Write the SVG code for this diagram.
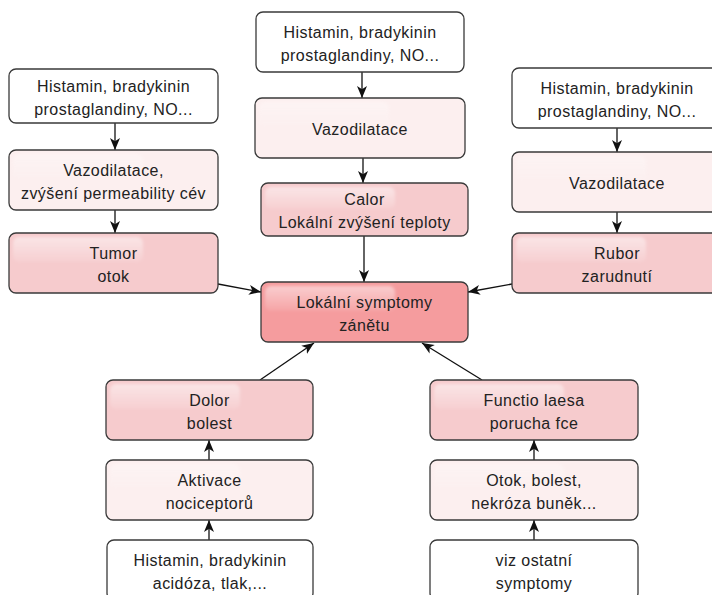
<svg xmlns="http://www.w3.org/2000/svg" width="712" height="595" viewBox="0 0 712 595">
  <defs>
    <marker id="arrow" markerWidth="13" markerHeight="11" refX="12" refY="5.5" orient="auto" markerUnits="userSpaceOnUse">
      <path d="M0,0.5 L12,5.5 L0,10.5 L3.2,5.5 z" fill="#111"/>
    </marker>
    <linearGradient id="gloss" x1="0" y1="0" x2="0" y2="1">
      <stop offset="0" stop-color="#fff" stop-opacity="0.5"/>
      <stop offset="1" stop-color="#fff" stop-opacity="0.08"/>
    </linearGradient>
    <filter id="soft" x="-10%" y="-20%" width="120%" height="140%">
      <feGaussianBlur stdDeviation="1.8"/>
    </filter>
  </defs>
  <style>
    .box rect.b { stroke: #3a3a3a; stroke-width: 1.3; }
    .src rect.b { fill: #ffffff; }
    .mid rect.b { fill: #fcefef; }
    .sym rect.b { fill: #f6cbcd; }
    .core rect.b { fill: #f59c9e; }
    rect.g { fill: url(#gloss); filter: url(#soft); }
    .mid rect.g { opacity: 0.6; }
    text { font-family: "Liberation Sans", Arial, Helvetica, sans-serif; font-size: 16px; letter-spacing: 0.45px; fill: #222; text-anchor: middle; }
    .conn line { stroke: #111; stroke-width: 1.3; marker-end: url(#arrow); }
  </style>

  <rect width="712" height="595" fill="#ffffff"/>

  <!-- connectors -->
  <g id="connectors" class="conn">
    <line x1="362" y1="72" x2="362" y2="98"/>
    <line x1="363" y1="158" x2="363" y2="183"/>
    <line x1="364" y1="236" x2="364" y2="282"/>
    <line x1="115" y1="123" x2="115" y2="150"/>
    <line x1="115" y1="210" x2="115" y2="233"/>
    <line x1="617" y1="128" x2="617" y2="152"/>
    <line x1="617" y1="212" x2="617" y2="233"/>
    <line x1="218" y1="284" x2="261" y2="292"/>
    <line x1="512" y1="284" x2="468" y2="292"/>
    <line x1="209" y1="540" x2="209" y2="520"/>
    <line x1="209" y1="460" x2="209" y2="440"/>
    <line x1="534" y1="540" x2="534" y2="520"/>
    <line x1="534" y1="460" x2="534" y2="440"/>
    <line x1="260" y1="380" x2="314" y2="343"/>
    <line x1="482" y1="380" x2="422" y2="343"/>
  </g>

  <!-- top column -->
  <g id="top-source" class="box src">
    <rect class="b" x="256" y="12" width="208" height="60" rx="7"/>
    <text x="360" y="38">Histamin, bradykinin</text>
    <text x="360" y="61">prostaglandiny, NO...</text>
  </g>
  <g id="top-vasodilation" class="box mid">
    <rect class="b" x="255" y="98" width="210" height="60" rx="7"/>
    <rect class="g" x="259" y="102" width="130" height="24" rx="6"/>
    <text x="360" y="135">Vazodilatace</text>
  </g>
  <g id="calor" class="box sym">
    <rect class="b" x="261" y="183" width="207" height="53" rx="7"/>
    <rect class="g" x="265" y="187" width="130" height="22" rx="6"/>
    <text x="364.5" y="205">Calor</text>
    <text x="364.5" y="228">Lokální zvýšení teploty</text>
  </g>

  <!-- central node -->
  <g id="local-symptoms" class="box core">
    <rect class="b" x="261" y="282" width="207" height="60" rx="7"/>
    <rect class="g" x="265" y="286" width="130" height="25" rx="6"/>
    <text x="364.5" y="308">Lokální symptomy</text>
    <text x="364.5" y="331">zánětu</text>
  </g>

  <!-- left column -->
  <g id="left-source" class="box src">
    <rect class="b" x="9" y="69" width="209" height="54" rx="7"/>
    <text x="113.5" y="92">Histamin, bradykinin</text>
    <text x="113.5" y="115">prostaglandiny, NO...</text>
  </g>
  <g id="left-vasodilation" class="box mid">
    <rect class="b" x="9" y="150" width="209" height="60" rx="7"/>
    <rect class="g" x="13" y="154" width="130" height="24" rx="6"/>
    <text x="113.5" y="176">Vazodilatace,</text>
    <text x="113.5" y="199">zvýšení permeability cév</text>
  </g>
  <g id="tumor" class="box sym">
    <rect class="b" x="9" y="233" width="209" height="60" rx="7"/>
    <rect class="g" x="13" y="237" width="130" height="25" rx="6"/>
    <text x="113.5" y="259">Tumor</text>
    <text x="113.5" y="282">otok</text>
  </g>

  <!-- right column -->
  <g id="right-source" class="box src">
    <rect class="b" x="512" y="68" width="210" height="60" rx="7"/>
    <text x="617" y="94">Histamin, bradykinin</text>
    <text x="617" y="117">prostaglandiny, NO...</text>
  </g>
  <g id="right-vasodilation" class="box mid">
    <rect class="b" x="512" y="152" width="210" height="60" rx="7"/>
    <rect class="g" x="516" y="156" width="130" height="24" rx="6"/>
    <text x="617" y="189">Vazodilatace</text>
  </g>
  <g id="rubor" class="box sym">
    <rect class="b" x="512" y="233" width="210" height="60" rx="7"/>
    <rect class="g" x="516" y="237" width="130" height="25" rx="6"/>
    <text x="617" y="259">Rubor</text>
    <text x="617" y="282">zarudnutí</text>
  </g>

  <!-- bottom left column -->
  <g id="dolor" class="box sym">
    <rect class="b" x="106" y="380" width="207" height="60" rx="7"/>
    <rect class="g" x="110" y="384" width="130" height="25" rx="6"/>
    <text x="209.5" y="406">Dolor</text>
    <text x="209.5" y="429">bolest</text>
  </g>
  <g id="nociceptors" class="box mid">
    <rect class="b" x="106" y="460" width="207" height="60" rx="7"/>
    <rect class="g" x="110" y="464" width="130" height="24" rx="6"/>
    <text x="209.5" y="486">Aktivace</text>
    <text x="209.5" y="509">nociceptorů</text>
  </g>
  <g id="bottom-left-source" class="box src">
    <rect class="b" x="107" y="540" width="206" height="60" rx="7"/>
    <text x="210" y="566">Histamin, bradykinin</text>
    <text x="210" y="589">acidóza, tlak,...</text>
  </g>

  <!-- bottom right column -->
  <g id="functio-laesa" class="box sym">
    <rect class="b" x="430" y="380" width="208" height="60" rx="7"/>
    <rect class="g" x="434" y="384" width="130" height="25" rx="6"/>
    <text x="534" y="406">Functio laesa</text>
    <text x="534" y="429">porucha fce</text>
  </g>
  <g id="tissue-damage" class="box mid">
    <rect class="b" x="430" y="460" width="208" height="60" rx="7"/>
    <rect class="g" x="434" y="464" width="130" height="24" rx="6"/>
    <text x="534" y="486">Otok, bolest,</text>
    <text x="534" y="509">nekróza buněk...</text>
  </g>
  <g id="bottom-right-source" class="box src">
    <rect class="b" x="430" y="540" width="208" height="60" rx="7"/>
    <text x="534" y="566">viz ostatní</text>
    <text x="534" y="589">symptomy</text>
  </g>
</svg>
